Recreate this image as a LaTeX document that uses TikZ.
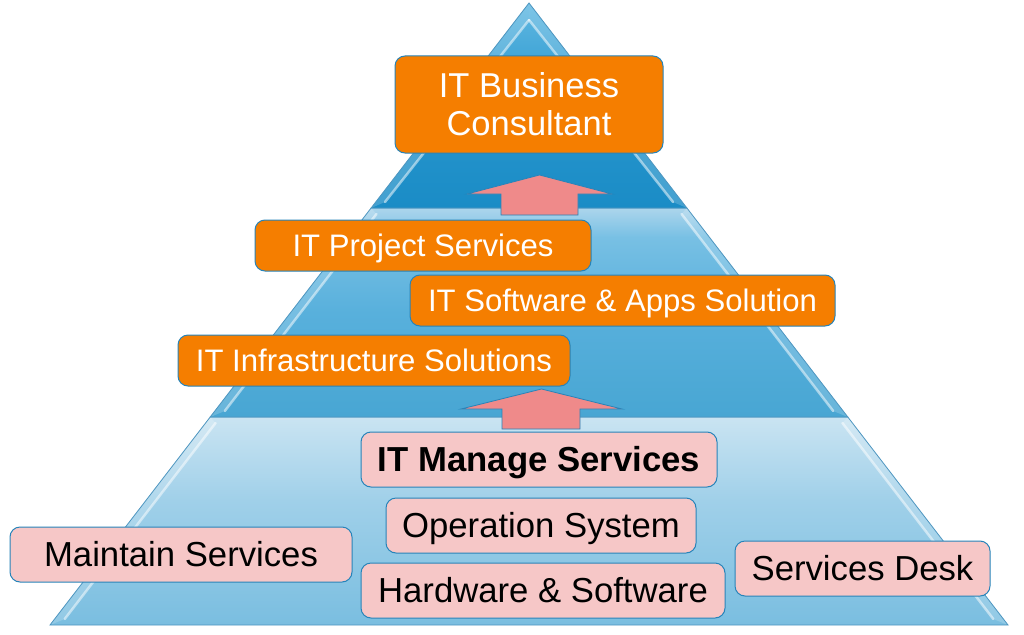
\documentclass[tikz,border=0pt]{standalone}
\usepackage{fontspec}
\setmainfont{Liberation Sans}
\definecolor{orangefill}{RGB}{245,126,0}
\definecolor{boxedge}{RGB}{38,132,186}
\definecolor{pinkfill}{RGB}{246,199,199}
\definecolor{arrowfill}{RGB}{239,138,138}
\definecolor{tieredge}{RGB}{78,150,192}
\definecolor{topA}{RGB}{96,184,226}
\definecolor{topC}{RGB}{40,150,205}
\definecolor{topB}{RGB}{26,140,198}
\definecolor{midA}{RGB}{172,213,236}
\definecolor{midD}{RGB}{120,192,228}
\definecolor{midC}{RGB}{88,176,220}
\definecolor{midB}{RGB}{72,166,211}
\definecolor{botA}{RGB}{202,228,242}
\definecolor{botC}{RGB}{160,208,233}
\definecolor{botB}{RGB}{122,190,224}
\pgfdeclareverticalshading{topshade}{100bp}{color(0bp)=(topB); color(25bp)=(topB); color(50bp)=(topC); color(75bp)=(topA); color(100bp)=(topA)}
\pgfdeclareverticalshading{midshade}{100bp}{color(0bp)=(midB); color(25bp)=(midB); color(50bp)=(midC); color(68bp)=(midD); color(75bp)=(midA); color(100bp)=(midA)}
\pgfdeclareverticalshading{botshade}{100bp}{color(0bp)=(botB); color(25bp)=(botB); color(55bp)=(botC); color(75bp)=(botA); color(100bp)=(botA)}
\begin{document}
\begin{tikzpicture}[x=1pt,y=-1pt,
  tier/.style={draw=tieredge, line width=0.8pt},
  bevel/.style={draw=white, draw opacity=0.5, line width=2.5pt, line cap=round},
  bevelstrip/.style={fill=white, fill opacity=0.18},
  obox/.style={draw=boxedge, line width=1pt, fill=orangefill, rounded corners=10pt,
    text=white, inner sep=0pt, align=center,
    font=\fontsize{31.1}{36}\selectfont, text height=28.1pt, text depth=6.6pt},
  pbox/.style={draw=boxedge, line width=1pt, fill=pinkfill, rounded corners=10pt,
    text=black, inner sep=0pt, align=center,
    font=\fontsize{34.7}{40}\selectfont, text height=31.4pt, text depth=7.4pt},
  uparrow/.style={draw=boxedge, line width=0.8pt, fill=arrowfill}
]
\useasboundingbox[fill=white] (0,0) rectangle (1024,634);

% pyramid corners
\coordinate (A) at (529,3);
\coordinate (L1) at (371.1,208);
\coordinate (R1) at (686.9,208);
\coordinate (L2) at (210.2,417);
\coordinate (R2) at (847.8,417);
\coordinate (L3) at (50,625);
\coordinate (R3) at (1008,625);

% bottom tier
\shade[shading=botshade] (L2) -- (R2) -- (R3) -- (L3) -- cycle;
\fill[bevelstrip] (L2) -- (215.6,423) -- (64.7,619) -- (L3) -- cycle;
\fill[bevelstrip] (R2) -- (842.4,423) -- (993.3,619) -- (R3) -- cycle;
\draw[bevel] (215.6,423) -- (64.7,619);
\draw[bevel] (842.4,423) -- (993.3,619);
\draw[tier] (L2) -- (R2) -- (R3) -- (L3) -- cycle;

% middle tier
\shade[shading=midshade] (L1) -- (R1) -- (R2) -- (L2) -- cycle;
\fill[bevelstrip] (L1) -- (376.5,214) -- (224.8,411) -- (L2) -- cycle;
\fill[bevelstrip] (R1) -- (681.5,214) -- (833.2,411) -- (R2) -- cycle;
\draw[bevel] (376.5,214) -- (224.8,411);
\draw[bevel] (681.5,214) -- (833.2,411);
\draw[tier] (L1) -- (R1) -- (R2) -- (L2) -- cycle;

% top tier
\shade[shading=topshade] (A) -- (R1) -- (L1) -- cycle;
\fill[bevelstrip] (A) -- (529,20) -- (385,202) -- (L1) -- cycle;
\fill[bevelstrip] (A) -- (529,20) -- (673,202) -- (R1) -- cycle;
\draw[bevel] (529,20) -- (385,202);
\draw[bevel] (529,20) -- (673,202);
\draw[tier] (A) -- (R1) -- (L1) -- cycle;

% block arrows
\draw[uparrow] (539.5,175) -- (612,194) -- (578,194) -- (578,215) -- (501,215) -- (501,194) -- (467,194) -- cycle;
\draw[uparrow] (541.5,389) -- (622,409) -- (580,409) -- (580,429) -- (502,429) -- (502,409) -- (461,409) -- cycle;

% orange boxes
\node[obox, minimum width=268pt, minimum height=97pt, font=\fontsize{34.5}{38}\selectfont, text height=69.2pt, text depth=7.3pt] (biz) at (529,104.5) {IT Business\\Consultant};
\node[obox, minimum width=336pt, minimum height=51pt] (proj) at (423,245.5) {IT Project Services};
\node[obox, minimum width=425pt, minimum height=51pt] (soft) at (622.5,300.5) {IT Software \& Apps Solution};
\node[obox, minimum width=392pt, minimum height=51pt] (infra) at (374,360.5) {IT Infrastructure Solutions};

% pink boxes
\node[pbox, minimum width=356pt, minimum height=55pt, font=\fontsize{34.7}{40}\selectfont\bfseries] (manage) at (539,459.5) {IT Manage Services};
\node[pbox, minimum width=310pt, minimum height=55pt] (os) at (541,525.5) {Operation System};
\node[pbox, minimum width=364pt, minimum height=55pt] (hw) at (543,590.5) {Hardware \& Software};
\node[pbox, minimum width=342pt, minimum height=55pt] (maint) at (181,554.5) {Maintain Services};
\node[pbox, minimum width=255pt, minimum height=55pt] (desk) at (862.5,568.5) {Services Desk};
\end{tikzpicture}
\end{document}
